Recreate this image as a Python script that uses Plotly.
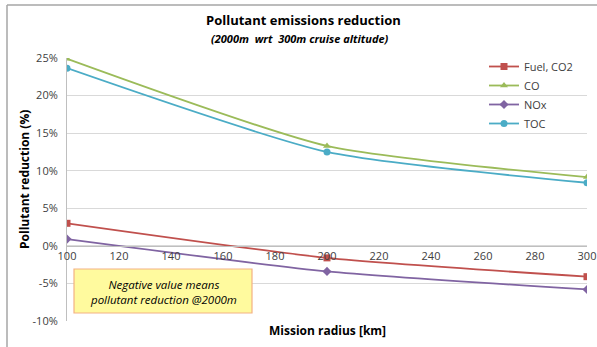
import plotly.graph_objects as go

radius = [100, 200, 300]
fuel_co2 = [3.0, -1.6, -4.1]
co = [24.9, 13.3, 9.15]
nox = [0.9, -3.4, -5.8]
toc = [23.65, 12.5, 8.4]

x_ticks = [100, 120, 140, 160, 180, 200, 220, 240, 260, 280, 300]
y_ticks = [-10, -5, 0, 5, 10, 15, 20, 25]
y_tick_labels = [f"{v}%" for v in y_ticks]

series = [
    ("Fuel, CO2", fuel_co2, "#C0504D", "square"),
    ("CO", co, "#9BBB59", "triangle-up"),
    ("NOx", nox, "#8064A2", "diamond"),
    ("TOC", toc, "#4BACC6", "circle"),
]

FONT = "Open Sans, Liberation Sans, sans-serif"

fig = go.Figure()
for name, vals, color, sym in series:
    fig.add_trace(go.Scatter(
        x=radius, y=vals, name=name, mode="lines+markers",
        line=dict(color=color, width=1.8, shape="spline", smoothing=0.6),
        marker=dict(symbol=sym, size=7, color=color),
    ))

W, H = 597, 347
ml, mr, mt, mb = 67, 10, 58, 26
pw, ph = W - ml - mr, H - mt - mb

def px(x):
    return (x - ml) / pw

def py(y):
    return (H - mb - y) / ph

fig.update_layout(
    width=W, height=H,
    margin=dict(l=ml, r=mr, t=mt, b=mb, autoexpand=False),
    paper_bgcolor="white", plot_bgcolor="white",
    font=dict(family=FONT, size=11, color="#404040"),
    showlegend=True,
    legend=dict(x=px(484), y=py(52), xanchor="left", yanchor="top",
                bgcolor="rgba(0,0,0,0)", font=dict(size=11, color="#404040"),
                tracegroupgap=0, itemwidth=30),
    xaxis=dict(range=[100, 300], tickvals=x_ticks, ticktext=[str(v) for v in x_ticks],
               anchor="free", position=10 / 35, showgrid=False, zeroline=False,
               showline=True, linecolor="#BFBFBF", linewidth=1, automargin=False,
               tickfont=dict(size=11, color="#404040"), ticks=""),
    yaxis=dict(range=[-10, 25], tickvals=y_ticks, ticktext=y_tick_labels,
               showgrid=True, gridcolor="#D9D9D9", gridwidth=1, zeroline=False,
               showline=True, linecolor="#BFBFBF", linewidth=1, automargin=False,
               tickfont=dict(size=11, color="#404040"), ticks="",
               ticklabelstandoff=6),
)

anns = [
    dict(text="<b>Pollutant emissions reduction</b>", x=px(303), y=py(20),
         font=dict(size=13, color="#000000")),
    dict(text="<b><i>(2000m  wrt  300m cruise altitude)</i></b>", x=px(300), y=py(39),
         font=dict(size=11, color="#000000")),
    dict(text="<b>Mission radius [km]</b>", x=px(327), y=py(330),
         font=dict(size=12, color="#000000")),
    dict(text="<b>Pollutant reduction (%)</b>", x=px(24), y=py(180), textangle=-90,
         font=dict(size=12, color="#000000")),
    dict(text="<i>Negative value means<br>pollutant reduction @2000m</i>",
         x=px(163), y=py(292), font=dict(size=11.5, color="#000000")),
]
for a in anns:
    a.update(xref="paper", yref="paper", showarrow=False, xanchor="center", yanchor="middle")
    fig.add_annotation(**a)

# note box
fig.add_shape(type="rect", xref="paper", yref="paper",
              x0=px(74), x1=px(252), y0=py(269), y1=py(313),
              fillcolor="#FFFA9E", line=dict(color="#F4B183", width=1.2), layer="above")

# outer chart border (top and left visible)
fig.add_shape(type="line", xref="paper", yref="paper",
              x0=px(7), x1=px(600), y0=py(5), y1=py(5),
              line=dict(color="#A6A6A6", width=1.5))
fig.add_shape(type="line", xref="paper", yref="paper",
              x0=px(7), x1=px(7), y0=py(5), y1=py(350),
              line=dict(color="#A6A6A6", width=1.5))

fig.write_html("out.html")
